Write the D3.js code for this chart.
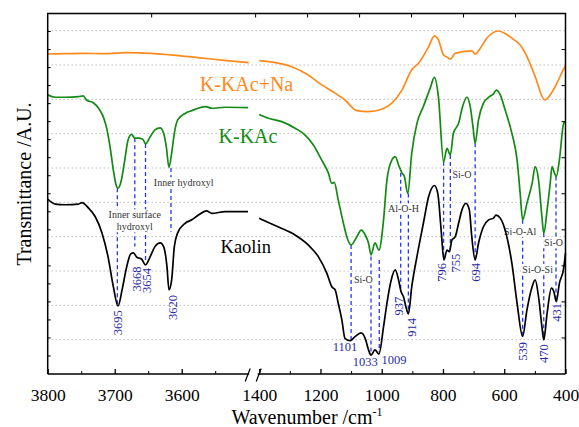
<!DOCTYPE html>
<html>
<head>
<meta charset="utf-8">
<script src="https://cdn.jsdelivr.net/npm/d3@7"></script>
<style>
body { margin: 0; background: #fff; }
</style>
</head>
<body>
<script>
// spectra: [wavenumber, transmittance (a.u.)]
var kaolinHigh = [[3800,5.09],[3789,4.95],[3774,4.93],[3754,4.95],[3749,4.99],[3739,4.83],[3729,4.58],[3719,4.11],[3710,3.42],[3702,2.54],[3695,1.98],[3689,2.45],[3682,3.13],[3676,3.50],[3672,3.53],[3667,3.40],[3660,3.35],[3654,3.18],[3647,3.42],[3640,3.71],[3632,3.82],[3627,3.71],[3622,3.13],[3619,2.45],[3615,2.74],[3611,3.71],[3606,4.11],[3595,4.39],[3585,4.49],[3575,4.63],[3563,4.75],[3555,4.68],[3535,4.73],[3501,4.73]];
var kaolinLow = [[1400,4.54],[1370,4.41],[1326,4.24],[1283,4.05],[1240,3.76],[1207,3.42],[1179,2.93],[1163,2.54],[1152,2.45],[1142,2.06],[1130,1.57],[1120,1.04],[1103,0.97],[1087,1.09],[1067,1.20],[1054,1.04],[1043,0.70],[1035,0.55],[1022,0.70],[1009,0.58],[994,1.38],[983,2.06],[969,2.74],[956,3.03],[945,2.74],[937,2.40],[929,2.25],[921,1.96],[913,1.75],[902,2.54],[885,3.42],[864,4.39],[847,5.16],[828,5.49],[817,5.26],[806,4.19],[797,3.32],[787,3.61],[779,3.56],[771,3.90],[760,4.00],[749,4.39],[738,4.78],[725,4.97],[714,4.78],[706,4.00],[695,3.32],[684,3.81],[668,4.29],[651,4.49],[635,4.54],[627,4.63],[613,4.54],[597,4.19],[575,3.22],[558,2.06],[540,1.09],[526,1.86],[509,2.54],[499,2.74],[488,2.25],[477,1.38],[471,0.99],[460,1.77],[446,2.50],[438,2.40],[430,2.11],[420,2.64],[406,3.08],[400,3.52]];

var kkacHigh = [[3800,8.13],[3789,8.06],[3774,8.06],[3754,8.08],[3747,8.10],[3742,7.98],[3732,7.90],[3724,7.74],[3717,7.49],[3712,7.16],[3707,6.62],[3702,5.94],[3698,5.51],[3695,5.41],[3690,5.65],[3685,6.23],[3680,6.82],[3675,6.98],[3670,6.87],[3665,6.87],[3658,6.84],[3654,6.70],[3647,6.91],[3640,7.11],[3632,7.17],[3627,7.01],[3623,6.62],[3619,6.02],[3615,6.43],[3611,7.01],[3606,7.40],[3595,7.59],[3585,7.67],[3565,7.79],[3555,7.74],[3535,7.77],[3501,7.76]];
var kkacLow = [[1400,7.56],[1370,7.45],[1326,7.35],[1283,7.16],[1250,6.96],[1223,6.67],[1196,6.23],[1174,5.85],[1163,5.55],[1155,5.58],[1142,5.07],[1125,4.39],[1114,4.00],[1100,3.76],[1081,4.00],[1067,4.19],[1054,4.05],[1043,3.81],[1035,3.47],[1022,3.82],[1009,3.61],[994,4.49],[983,5.65],[967,6.23],[956,6.33],[943,6.04],[934,5.86],[926,5.75],[915,5.26],[902,6.43],[885,7.30],[864,7.79],[842,8.32],[828,8.64],[815,8.08],[798,6.18],[787,6.57],[776,6.38],[766,7.01],[749,7.30],[736,7.79],[722,8.06],[711,7.79],[702,7.20],[695,6.72],[684,7.40],[668,7.89],[651,8.06],[635,8.16],[626,8.27],[613,8.13],[597,7.69],[575,7.01],[558,6.23],[548,5.26],[540,4.49],[526,4.97],[509,5.55],[499,6.04],[488,5.65],[477,4.58],[471,4.10],[460,4.78],[450,5.55],[444,6.04],[436,5.85],[430,5.75],[420,6.23],[406,7.30],[400,7.35]];

var kkacNaHigh = [[3800,9.32],[3775,9.33],[3747,9.34],[3715,9.33],[3682,9.36],[3647,9.34],[3613,9.29],[3573,9.21],[3533,9.13],[3500,9.07]];
var kkacNaLow = [[1400,9.13],[1348,9.07],[1294,8.95],[1240,8.71],[1196,8.42],[1152,8.18],[1120,7.98],[1081,7.67],[1043,7.64],[1000,7.71],[967,7.89],[934,8.27],[902,8.86],[880,9.05],[847,9.53],[828,9.85],[815,9.73],[798,9.29],[787,9.23],[776,9.17],[760,9.34],[733,9.39],[706,9.41],[695,9.32],[678,9.49],[657,9.78],[619,9.99],[597,9.92],[575,9.78],[548,9.58],[521,9.15],[499,8.66],[468,7.98],[450,8.13],[428,8.47],[406,8.88],[400,8.97]];

var seriesNames = ["Kaolin", "K-KAc", "K-KAc+Na"];
var seriesNameAt = [[3542,3.52],[3545,6.74],[3573,8.24]];

// peak markers: label, wavenumber of the dashed line, line span (K-KAc -> Kaolin), label anchor
var peakLabels = ["3695","3668","3654","3620","1101","1033","1009","937","914","796","755","694","539","470","431"];
var peakWn = [3696,3670,3654,3616,1100,1035,1008,938,913,798,776,695,540,471,431];
var peakSpan = [[5.41,1.98],[6.87,3.71],[6.70,3.26],[6.00,4.14],[3.76,0.99],[3.42,0.60],[3.32,0.65],[5.86,2.45],[5.26,1.75],[6.18,3.32],[6.38,3.61],[6.72,3.32],[4.49,1.09],[4.10,0.99],[5.75,2.11]];
var peakLabelAt = [[3695,1.86],[3667,3.13],[3652,3.09],[3613,2.30],[1120,0.79],[1054,0.35],[960,0.41],[946,2.25],[902,1.63],[804,3.23],[760,3.50],[695,3.23],[539,0.93],[470,0.87],[430,2.07]];

var bandText = ["Inner surface|hydroxyl", "Inner hydroxyl", "Si-O", "Al-O-H", "Si-O", "Si-O-Al", "Si-O-Si", "Si-O"];
var bandAt = [[3670,4.46],[3597,5.57],[1060,2.74],[929,4.81],[738,5.80],[548,4.15],[491,3.05],[439,3.82]];

var xTicksHigh = [3800, 3700, 3600], xMinorHigh = [3750, 3650, 3550];
var xTicksLow = [1400, 1200, 1000, 800, 600, 400], xMinorLow = [1300, 1100, 900, 700, 500];

var width = 579, height = 427;
var pLeft = 47.7, pRight = 565.5, pTop = 13.5, pBottom = 374;
var breakL = 248.7, breakR = 259.2;
var serif = '"Liberation Serif", "Times New Roman", Times, serif';

var svg = d3.select("body").append("svg")
  .attr("width", width)
  .attr("height", height)
  .style("background", "#fff")
  .style("font-family", serif);

var x1 = d3.scaleLinear().domain([3800, 3500]).range([pLeft, breakL]);
var x2 = d3.scaleLinear().domain([1400, 400]).range([breakR, pRight]);
function xw(w) { return w > 2000 ? x1(w) : x2(w); }
var y = d3.scaleLinear().domain([0, 10.5]).range([pBottom, pTop]);
var yTick = d3.scaleLinear().domain([0, 20]).range([pBottom, pTop]);
var topTick = d3.scaleLinear().domain([0, 10]).range([pLeft, pRight + 2]);

var colors = {"Kaolin": "#000", "K-KAc": "#138a13", "K-KAc+Na": "#ff8a1c"};

// dotted grid
svg.append("g").selectAll("line")
  .data(d3.range(1, 11))
  .enter().append("line")
  .attr("x1", pLeft).attr("x2", pRight)
  .attr("y1", function(d) { return y(d); })
  .attr("y2", function(d) { return y(d); })
  .attr("stroke", "#a0a0a0")
  .attr("stroke-width", 1)
  .attr("stroke-dasharray", "1,3");

// dashed peak markers
svg.append("g").selectAll("line")
  .data(peakWn)
  .enter().append("line")
  .attr("x1", function(d) { return xw(d); })
  .attr("x2", function(d) { return xw(d); })
  .attr("y1", function(d, i) { return y(peakSpan[i][0]); })
  .attr("y2", function(d, i) { return y(peakSpan[i][1]); })
  .attr("stroke", "#2438f0")
  .attr("stroke-width", 1.3)
  .attr("stroke-dasharray", "4,3");

// band assignments, on white so they cut the dashed lines
bandText.forEach(function(t, i) {
  var g = svg.append("g")
    .attr("transform", "translate(" + xw(bandAt[i][0]) + "," + y(bandAt[i][1]) + ")");
  var parts = t.split("|");
  var txt = g.append("text")
    .attr("text-anchor", "middle")
    .attr("font-size", 10)
    .attr("fill", "#333");
  parts.forEach(function(p, j) {
    txt.append("tspan")
      .attr("x", 0)
      .attr("y", (j - (parts.length - 1) / 2) * 12)
      .attr("dy", "0.35em")
      .text(p);
  });
  var bb = txt.node().getBBox();
  g.insert("rect", "text")
    .attr("x", bb.x - 1).attr("y", bb.y)
    .attr("width", bb.width + 2).attr("height", bb.height)
    .attr("fill", "#fff");
});

// spectra
var line = d3.line()
  .x(function(d) { return xw(d[0]); })
  .y(function(d) { return y(d[1]); })
  .curve(d3.curveMonotoneX);

var segments = [
  ["K-KAc+Na", kkacNaHigh], ["K-KAc+Na", kkacNaLow],
  ["K-KAc", kkacHigh], ["K-KAc", kkacLow],
  ["Kaolin", kaolinHigh], ["Kaolin", kaolinLow]
];
svg.append("g").selectAll("path")
  .data(segments)
  .enter().append("path")
  .attr("d", function(d) { return line(d[1]); })
  .attr("fill", "none")
  .attr("stroke", function(d) { return colors[d[0]]; })
  .attr("stroke-width", 1.7)
  .attr("stroke-linejoin", "round");

// series names
svg.append("g").selectAll("text")
  .data(seriesNames)
  .enter().append("text")
  .attr("x", function(d, i) { return xw(seriesNameAt[i][0]); })
  .attr("y", function(d, i) { return y(seriesNameAt[i][1]); })
  .attr("font-size", function(d) { return d == "Kaolin" ? 18.5 : 20; })
  .attr("fill", function(d) { return colors[d]; })
  .text(function(d) { return d; });

// peak numbers
var flat = ["1101", "1033", "1009"];
svg.append("g").selectAll("text")
  .data(peakLabels)
  .enter().append("text")
  .attr("transform", function(d, i) {
    var t = "translate(" + xw(peakLabelAt[i][0]) + "," + y(peakLabelAt[i][1]) + ")";
    return flat.indexOf(d) >= 0 ? t : t + " rotate(-90)";
  })
  .attr("text-anchor", function(d) { return flat.indexOf(d) >= 0 ? "middle" : "end"; })
  .attr("dy", "0.35em")
  .attr("font-size", 12.5)
  .attr("fill", "#2a2aa6")
  .text(function(d) { return d; });

// frame
var frame = svg.append("g")
  .attr("stroke", "#000")
  .attr("stroke-width", 1.5)
  .attr("fill", "none");
frame.append("path").attr("d",
  "M" + pLeft + "," + pBottom + "V" + pTop + "H" + pRight + "V" + pBottom);
frame.append("line").attr("x1", pLeft).attr("x2", breakL + 0.5).attr("y1", pBottom).attr("y2", pBottom);
frame.append("line").attr("x1", breakR - 1.5).attr("x2", pRight).attr("y1", pBottom).attr("y2", pBottom);
[breakL - 1, breakR - 0.5].forEach(function(bx) {
  frame.append("line")
    .attr("x1", bx - 2.5).attr("y1", pBottom + 7.5)
    .attr("x2", bx + 2.5).attr("y2", pBottom - 5.5)
    .attr("stroke-width", 1.2);
});

// y ticks (inward)
svg.append("g").selectAll("line")
  .data(d3.range(1, 20))
  .enter().append("line")
  .attr("x1", pLeft).attr("x2", pLeft + 3)
  .attr("y1", function(d) { return yTick(d); })
  .attr("y2", function(d) { return yTick(d); })
  .attr("stroke", "#000");
svg.append("g").selectAll("line")
  .data(d3.range(2, 20, 2))
  .enter().append("line")
  .attr("x1", pRight).attr("x2", pRight - 4)
  .attr("y1", function(d) { return yTick(d); })
  .attr("y2", function(d) { return yTick(d); })
  .attr("stroke", "#000");
svg.append("g").selectAll("line")
  .data([2, 4, 5, 6, 7, 8, 9])
  .enter().append("line")
  .attr("x1", function(d) { return topTick(d); })
  .attr("x2", function(d) { return topTick(d); })
  .attr("y1", pTop).attr("y2", pTop + 4)
  .attr("stroke", "#000");

// x axes
function drawAxis(scale, major, minor) {
  var g = svg.append("g").attr("transform", "translate(0," + pBottom + ")");
  g.call(d3.axisBottom(scale).tickValues(major).tickSizeInner(-5).tickSizeOuter(0).tickPadding(15).tickFormat(d3.format("d")));
  g.attr("font-family", null).attr("font-size", null);
  g.select(".domain").remove();
  g.selectAll("line").attr("stroke-width", 1.3);
  g.selectAll("text")
    .attr("font-size", 17.5)
    .attr("fill", "#000");
  var m = svg.append("g").attr("transform", "translate(0," + pBottom + ")");
  m.call(d3.axisBottom(scale).tickValues(minor).tickSizeInner(-3).tickSizeOuter(0).tickFormat(""));
  m.select(".domain").remove();
}
drawAxis(x1, xTicksHigh, xMinorHigh);
drawAxis(x2, xTicksLow, xMinorLow);

// axis titles
var xt = svg.append("text")
  .attr("x", 307).attr("y", 424)
  .attr("text-anchor", "middle")
  .attr("font-size", 20);
xt.append("tspan").text("Wavenumber /cm");
xt.append("tspan").attr("font-size", 12).attr("dy", -8).text("-1");

svg.append("text")
  .attr("transform", "translate(31,184) rotate(-90)")
  .attr("text-anchor", "middle")
  .attr("font-size", 20)
  .text("Transmittance /A.U.");

svg.selectAll("text").style("font-family", serif);
</script>
</body>
</html>
